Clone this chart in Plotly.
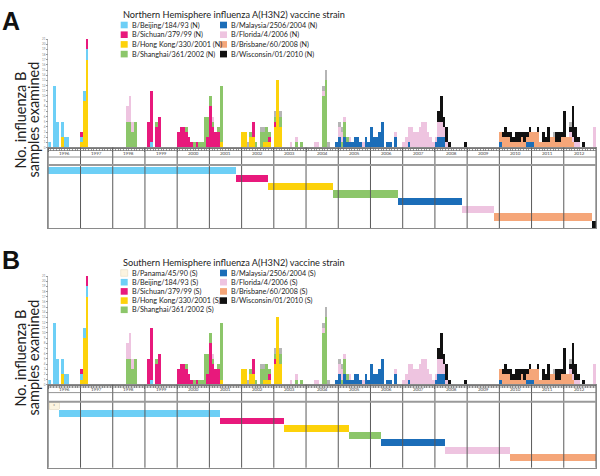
import plotly.graph_objects as go

W, H = 600, 476
X0, X1 = 48.3, 596.0          # pixel x of 1996-01 and 2013-01
YEARS = list(range(1996, 2013))

# vaccine strains (legend order and timeline row order)
nh_strains = ["B/Beijing/184/93", "B/Sichuan/379/99", "B/Hong Kong/330/2001", "B/Shanghai/361/2002",
              "B/Malaysia/2506/2004", "B/Florida/4/2006", "B/Brisbane/60/2008", "B/Wisconsin/01/2010"]
sh_strains = ["B/Panama/45/90"] + nh_strains

strain_colors = {
    "B/Panama/45/90": "#FCF4E0",
    "B/Beijing/184/93": "#6DCFF6",
    "B/Sichuan/379/99": "#E8197C",
    "B/Hong Kong/330/2001": "#FDD20A",
    "B/Shanghai/361/2002": "#8CC66A",
    "B/Malaysia/2506/2004": "#1B6DB8",
    "B/Florida/4/2006": "#EEC4E0",
    "B/Brisbane/60/2008": "#F5A679",
    "B/Wisconsin/01/2010": "#111111",
    "other": "#B5B5B5",
}

# vaccine periods, decimal years
nh_start = [1996.0, 2001.83, 2002.83, 2004.85, 2006.85, 2008.85, 2009.85, 2012.87]
nh_end = [2001.83, 2002.83, 2004.85, 2006.85, 2008.85, 2009.85, 2012.87, 2013.0]
sh_start = [1996.03, 1996.33, 2001.33, 2003.33, 2005.33, 2006.33, 2008.33, 2010.33]
sh_end = [1996.33, 2001.33, 2003.33, 2005.33, 2006.33, 2008.33, 2010.33, 2013.0]

# monthly number of influenza B samples, by matching strain
beijing = {"1996-01": 1, "1996-03": 12, "1996-04": 5, "1996-06": 3, "1996-07": 2, "1996-08": 2,
           "1997-01": 1, "1997-02": 2, "1997-03": 2, "1999-03": 1}
hong_kong = {"1996-06": 2, "1997-01": 1, "1997-02": 9, "1997-03": 17, "2001-05": 1, "2002-01": 3,
             "2002-02": 3, "2002-04": 2, "2002-05": 2, "2002-09": 1, "2002-10": 1, "2002-11": 1,
             "2003-01": 4, "2003-02": 13, "2003-03": 4}
sichuan = {"1997-01": 1, "1997-03": 2, "1999-02": 5, "1999-03": 10, "1999-05": 4, "1999-06": 6,
           "2000-01": 3, "2000-02": 4, "2000-03": 4, "2000-04": 3, "2000-05": 2, "2000-06": 1,
           "2000-08": 1, "2000-12": 2, "2001-01": 8, "2001-02": 4, "2001-03": 3, "2001-04": 3,
           "2002-05": 3, "2002-11": 1, "2003-01": 1}
shanghai = {"1998-06": 5, "1998-07": 5, "1998-08": 3, "1998-09": 5, "1999-05": 1, "2000-04": 1,
            "2000-07": 1, "2000-09": 1, "2000-10": 1, "2000-11": 6, "2000-12": 4, "2001-01": 2,
            "2001-02": 1, "2001-04": 1, "2001-05": 11, "2002-04": 1, "2002-06": 1, "2002-08": 3,
            "2002-09": 2, "2002-10": 3, "2002-11": 1, "2003-01": 1, "2003-03": 2, "2003-09": 1,
            "2003-11": 1, "2004-07": 10, "2004-08": 13, "2005-02": 1, "2005-03": 3, "2005-04": 1}
florida = {"1998-06": 3, "1998-07": 5, "1998-08": 2, "2001-02": 1, "2003-07": 1, "2003-09": 1,
           "2004-04": 1, "2004-05": 1, "2004-07": 1, "2005-01": 2, "2005-02": 2, "2005-03": 1,
           "2005-05": 1, "2005-10": 1, "2006-10": 1, "2007-01": 1, "2007-02": 2, "2007-03": 3,
           "2007-04": 4, "2007-05": 3, "2007-06": 3, "2007-07": 4, "2007-08": 5, "2007-09": 5,
           "2007-10": 3, "2007-11": 2, "2007-12": 1, "2008-01": 1, "2008-02": 3, "2008-03": 3,
           "2008-04": 2, "2008-05": 1, "2012-03": 1, "2012-04": 1, "2012-05": 1, "2012-06": 1,
           "2012-12": 4}
malaysia = {"2004-12": 1, "2005-01": 2, "2005-03": 2, "2005-04": 1, "2005-05": 1, "2005-06": 1,
            "2005-07": 2, "2005-08": 2, "2005-09": 1, "2005-11": 2, "2005-12": 1, "2006-01": 4,
            "2006-02": 2, "2006-03": 2, "2006-04": 3, "2006-05": 5, "2006-07": 1, "2006-08": 1,
            "2006-10": 2, "2007-03": 1, "2008-01": 1, "2008-02": 2, "2008-03": 2, "2008-04": 2,
            "2010-01": 1, "2010-11": 1, "2010-12": 1, "2011-01": 1}
brisbane = {"2010-01": 2, "2010-02": 2, "2010-03": 2, "2010-04": 2, "2010-05": 1, "2010-06": 1,
            "2010-07": 1, "2010-08": 1, "2010-09": 2, "2010-10": 1, "2010-11": 1, "2010-12": 2,
            "2011-01": 2, "2011-02": 3, "2011-03": 3, "2011-04": 1, "2011-05": 1, "2011-06": 1,
            "2011-07": 1, "2011-08": 2, "2011-09": 2, "2011-10": 1, "2011-11": 1, "2011-12": 2,
            "2012-01": 2, "2012-02": 2, "2012-03": 2, "2012-04": 1}
wisconsin = {"2008-02": 2, "2008-03": 5, "2008-04": 2, "2008-05": 3, "2008-06": 1, "2008-12": 1,
             "2010-02": 1, "2010-03": 2, "2010-04": 1, "2010-05": 2, "2010-06": 1, "2010-07": 2,
             "2010-08": 2, "2010-09": 1, "2010-10": 2, "2010-11": 1, "2010-12": 1, "2011-03": 1,
             "2011-05": 2, "2011-06": 1, "2011-07": 3, "2011-10": 2, "2011-11": 2, "2011-12": 1,
             "2012-01": 5, "2012-03": 1, "2012-04": 6, "2012-05": 3, "2012-06": 1, "2012-08": 1}
other = {"2002-03": 1, "2002-08": 1, "2002-09": 1, "2003-01": 1, "2003-03": 1, "2004-07": 1,
         "2004-08": 2, "2004-09": 1, "2005-01": 1, "2005-02": 1, "2011-09": 1, "2012-03": 1}

# bottom -> top stacking order
stack = [("B/Malaysia/2506/2004", malaysia), ("B/Brisbane/60/2008", brisbane),
         ("B/Hong Kong/330/2001", hong_kong), ("B/Beijing/184/93", beijing),
         ("B/Sichuan/379/99", sichuan), ("B/Shanghai/361/2002", shanghai),
         ("B/Florida/4/2006", florida), ("B/Wisconsin/01/2010", wisconsin), ("other", other)]

FONT = "Lato"


def month_pos(key):
    y, m = key.split("-")
    return int(y) + (int(m) - 0.5) / 12


def py(p):
    return 1 - p / H


def note(x, y, text, size, color="#222", family=FONT, xanchor="center", **kw):
    return dict(x=x, y=y, text=text, showarrow=False, xanchor=xanchor, yanchor="middle",
                font=dict(size=size, color=color, family=family), **kw)


fig = go.Figure()

panels = [
    dict(letter="A", suffix="(N)", hemi="Northern", strains=nh_strains, start=nh_start, end=nh_end,
         ax="", tl="2", top=39.0, base=147.5, band=[150.5, 157.0], lab=153.8, tl_top=165.0,
         tl_bot=228.0, row0=166.5, row_h=7.7, title_y=14.0, leg_y=25.0, leg_dy=9.7,
         letter_y=21.5, ylab=120.0),
    dict(letter="B", suffix="(S)", hemi="Southern", strains=sh_strains, start=sh_start, end=sh_end,
         ax="3", tl="4", top=276.0, base=384.7, band=[387.0, 392.6], lab=389.9, tl_top=401.7,
         tl_bot=467.7, row0=402.4, row_h=7.3, title_y=262.7, leg_y=273.0, leg_dy=9.2,
         letter_y=259.5, ylab=358.0),
]

xdom = [X0 / W, X1 / W]
bounds = YEARS + [2013]
shapes, annotations = [], []

for p in panels:
    xa, ya = "x" + p["ax"], "y" + p["ax"]
    xt, yt = "x" + p["tl"], "y" + p["tl"]

    for name, data in stack:
        keys = list(data.keys())
        fig.add_trace(go.Bar(
            x=[month_pos(k) for k in keys], y=[data[k] for k in keys], width=1 / 12,
            marker=dict(color=strain_colors[name], line=dict(width=0)),
            xaxis=xa, yaxis=ya, showlegend=False, hoverinfo="skip"))

    n = len(p["start"])
    fig.add_trace(go.Bar(
        orientation="h", base=p["start"], x=[e - s for s, e in zip(p["start"], p["end"])],
        y=[r + 0.5 for r in range(n)], width=0.94,
        marker=dict(color=[strain_colors[s] for s in p["strains"][:n]],
                    line=dict(width=[0.6 if s == "B/Panama/45/90" else 0 for s in p["strains"][:n]],
                              color="#E3D6B8")),
        xaxis=xt, yaxis=yt, showlegend=False, hoverinfo="skip"))

    fig.update_layout(**{
        ("xaxis" + p["ax"]): dict(
            domain=xdom, range=[1996, 2013], anchor=ya, showticklabels=False, showgrid=False,
            zeroline=False, showline=True, linecolor="#777", linewidth=1, ticks="outside",
            tickvals=bounds, ticklen=3, tickcolor="#777", tickwidth=0.6, automargin=False,
            minor=dict(ticks="outside", dtick=1 / 12, tick0=1996, ticklen=2.5, tickcolor="#999",
                       tickwidth=0.5)),
        ("yaxis" + p["ax"]): dict(
            domain=[py(p["base"]), py(p["top"])], range=[0, 21], anchor=xa, tickvals=list(range(22)),
            tickfont=dict(size=3, color="#888", family=FONT), ticks="outside", ticklen=1.5,
            tickcolor="#999", tickwidth=0.5, showline=True, linecolor="#bbb", linewidth=0.6,
            showgrid=False, zeroline=False, automargin=False),
        ("xaxis" + p["tl"]): dict(
            domain=xdom, range=[1996, 2013], anchor=yt, showticklabels=False, showgrid=False,
            zeroline=False, ticks="", showline=True, mirror=True, linecolor="#8a8a8a",
            linewidth=1, automargin=False),
        ("yaxis" + p["tl"]): dict(
            domain=[py(p["tl_bot"]), py(p["base"])],
            range=[(p["tl_bot"] - p["row0"]) / p["row_h"], (p["base"] - p["row0"]) / p["row_h"]],
            anchor=xt, showticklabels=False, showgrid=False, zeroline=False, ticks="",
            showline=True, mirror=True, linecolor="#8a8a8a", linewidth=1, automargin=False),
    })

    # year separators, band and timeline frame lines
    for yr in bounds:
        shapes.append(dict(type="line", xref=xt, yref="paper", x0=yr, x1=yr,
                           y0=py(p["tl_bot"]), y1=py(p["base"]),
                           line=dict(color="#5a5a5a", width=1), layer="above"))
    for yy, col, lw in [(p["band"][0], "#777", 0.8), (p["band"][1], "#777", 0.8),
                        (p["tl_top"], "#9a9a9a", 2)]:
        shapes.append(dict(type="line", xref="paper", yref="paper", x0=xdom[0], x1=xdom[1],
                           y0=py(yy), y1=py(yy), line=dict(color=col, width=lw)))
    for yr in YEARS:
        annotations.append(note(yr + 0.5, py(p["lab"]), str(yr), 4.5, "#444",
                                xref=xt, yref="paper"))

    # legend
    annotations.append(note(120.5 / W, py(p["title_y"]),
                            p["hemi"] + " Hemisphere influenza A(H3N2) vaccine strain", 9.2,
                            xanchor="left", xref="paper", yref="paper"))
    ncol1 = len(p["strains"]) - 4
    for i, s in enumerate(p["strains"]):
        col, row = (0, i) if i < ncol1 else (1, i - ncol1)
        sx = 120.7 if col == 0 else 220.0
        cy = p["leg_y"] + row * p["leg_dy"]
        shapes.append(dict(type="rect", xref="paper", yref="paper", x0=sx / W, x1=(sx + 7) / W,
                           y0=py(cy + 3.3), y1=py(cy - 3.3), fillcolor=strain_colors[s],
                           line=dict(width=0.5 if s == "B/Panama/45/90" else 0, color="#E3D6B8")))
        annotations.append(note((sx + 9.3) / W, py(cy), s + " " + p["suffix"], 7.2,
                                xanchor="left", xref="paper", yref="paper"))

    annotations.append(note(11 / W, py(p["letter_y"]), "<b>" + p["letter"] + "</b>", 25, "#111",
                            "Liberation Sans", xref="paper", yref="paper"))
    for lx, txt in [(19.5, "No. influenza B"), (32.5, "samples examined")]:
        annotations.append(note(lx / W, py(p["ylab"]), txt, 14.5, textangle=-90,
                                xref="paper", yref="paper"))

annotations.append(note(1996.18, py(405.5), "*", 5, "#666", xref="x4", yref="paper"))

fig.update_layout(
    template="none",
    width=W, height=H, margin=dict(l=0, r=0, t=0, b=0, pad=0),
    barmode="stack", bargap=0, plot_bgcolor="white", paper_bgcolor="white",
    shapes=shapes, annotations=annotations,
)

fig.write_html("out.html", config={"displayModeBar": False},
               post_script="document.body.style.margin = '0px';")
